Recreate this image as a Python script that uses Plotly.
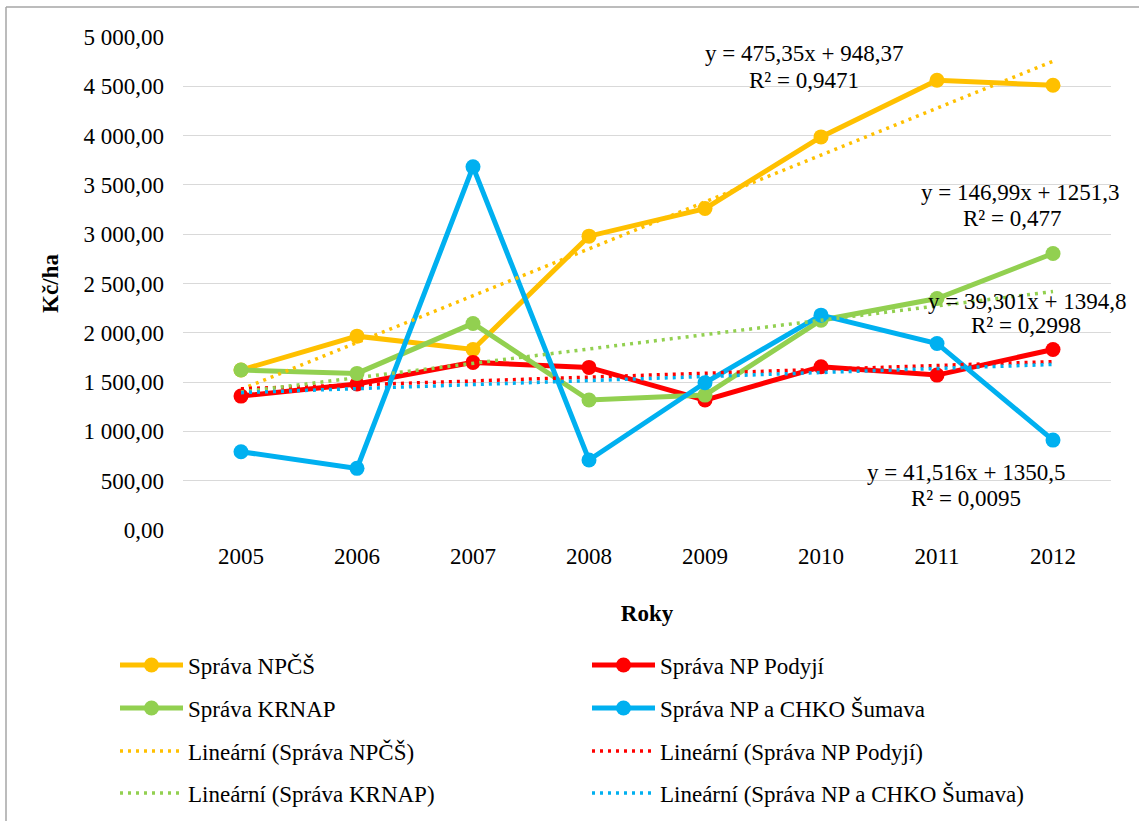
import numpy as np
import plotly.graph_objects as go

years = ["2005", "2006", "2007", "2008", "2009", "2010", "2011", "2012"]
npcs = [1622, 1966, 1831, 2980, 3260, 3987, 4561, 4510]
podyji = [1358, 1480, 1700, 1649, 1318, 1655, 1571, 1831]
krnap = [1622, 1588, 2095, 1318, 1368, 2128, 2348, 2804]
sumava = [794, 625, 3683, 710, 1493, 2179, 1892, 912]

names = ["Správa NPČŠ", "Správa NP Podyjí", "Správa KRNAP", "Správa NP a CHKO Šumava"]
colors = ["#FFC000", "#FF0000", "#92D050", "#00B0F0"]
series = [npcs, podyji, krnap, sumava]

trend_labels = [
    ("y = 475,35x + 948,37", "R² = 0,9471"),
    ("y = 146,99x + 1251,3", "R² = 0,477"),
    ("y = 39,301x + 1394,8", "R² = 0,2998"),
    ("y = 41,516x + 1350,5", "R² = 0,0095"),
]

FONT = "Liberation Serif"
FS = 23

# plot area in pixels
W, H = 1139, 821
L, R, T, B = 183, 1111, 37, 530
PW, PH = R - L, B - T


def px(x):
    return (x - L) / PW


def py(y):
    return (B - y) / PH


fig = go.Figure()
legend_rows = ["legend", "legend", "legend2", "legend2"]
for i, (nm, c, s) in enumerate(zip(names, colors, series)):
    fig.add_trace(go.Scatter(
        x=years, y=s, name=nm, mode="lines+markers",
        line=dict(color=c, width=5),
        marker=dict(color=c, size=15),
        legend=legend_rows[i],
    ))

idx = np.arange(1, len(years) + 1)
trend_rows = ["legend3", "legend3", "legend4", "legend4"]
for i, (nm, c, s) in enumerate(zip(names, colors, series)):
    k, q = np.polyfit(idx, np.array(s, dtype=float), 1)
    fig.add_trace(go.Scatter(
        x=years, y=k * idx + q, name="Lineární (" + nm + ")", mode="lines",
        line=dict(color=c, width=3.5, dash="3px,5px"),
        legend=trend_rows[i],
    ))

# trendline equation labels (pixel centres)
label_pos = [
    ((804, 53), (804, 80)),
    ((1020, 192), (1012, 219)),
    ((1027, 301), (1026, 325)),
    ((966, 472), (966, 498)),
]
ann = []
for (eq, r2), ((x1, y1), (x2, y2)) in zip(trend_labels, label_pos):
    ann.append(dict(text=eq, x=px(x1), y=py(y1), xref="paper", yref="paper",
                    showarrow=False, xanchor="center", yanchor="middle",
                    font=dict(family=FONT, size=FS, color="black")))
    ann.append(dict(text=r2, x=px(x2), y=py(y2), xref="paper", yref="paper",
                    showarrow=False, xanchor="center", yanchor="middle",
                    font=dict(family=FONT, size=FS, color="black")))

leg_common = dict(orientation="h", xanchor="left", yanchor="middle",
                  x=px(115), entrywidth=394, entrywidthmode="pixels",
                  font=dict(family=FONT, size=FS, color="black"),
                  bgcolor="rgba(0,0,0,0)", itemwidth=63)

fig.update_layout(
    width=W, height=H,
    margin=dict(l=L, r=W - R, t=T, b=H - B, autoexpand=False),
    paper_bgcolor="white", plot_bgcolor="white",
    font=dict(family=FONT, size=FS, color="black"),
    separators=", ",
    showlegend=True,
    legend=dict(**leg_common, y=py(665)),
    legend2=dict(**leg_common, y=py(708)),
    legend3=dict(**leg_common, y=py(751)),
    legend4=dict(**leg_common, y=py(793)),
    annotations=ann,
    xaxis=dict(
        type="category", range=[-0.5, 7.5], showgrid=False, zeroline=False,
        showline=False, ticks="", tickfont=dict(family=FONT, size=FS),
        title=dict(text="<b>Roky</b>", font=dict(family=FONT, size=FS), standoff=36),
        ticklabelstandoff=10,
    ),
    yaxis=dict(
        range=[0, 5000], dtick=500, tickformat=",.2f", showgrid=True,
        gridcolor="#D9D9D9", gridwidth=1.3, zeroline=False, showline=False,
        ticks="", tickfont=dict(family=FONT, size=FS), ticklabelstandoff=18,
        title=dict(text="<b>Kč/ha</b>", font=dict(family=FONT, size=FS), standoff=18),
    ),
    shapes=[
        dict(type="line", xref="paper", yref="paper", x0=px(6), x1=px(W), y0=py(7), y1=py(7),
             line=dict(color="#A6A6A6", width=1.5)),
        dict(type="line", xref="paper", yref="paper", x0=px(6), x1=px(6), y0=py(7), y1=py(H),
             line=dict(color="#A6A6A6", width=1.5)),
    ],
)

fig.write_html("out.html", config={"displayModeBar": False},
               post_script="document.body.style.margin='0';")
